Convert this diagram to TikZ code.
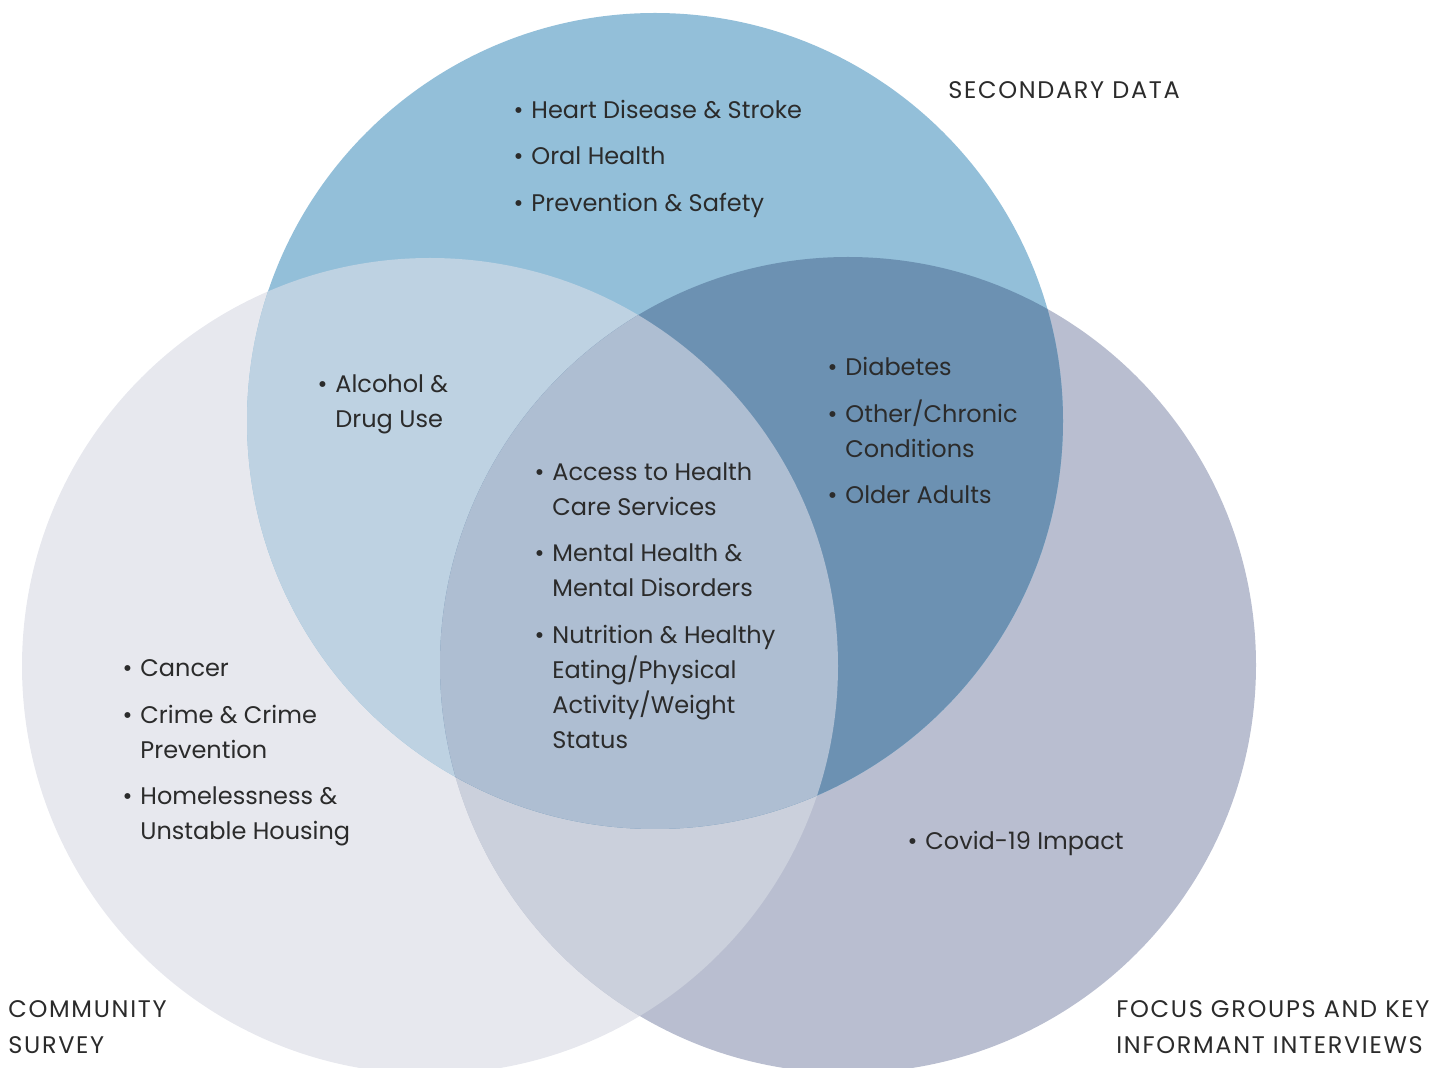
\documentclass[tikz,border=0pt]{standalone}
\usepackage{fontspec}
\setmainfont{Poppins}
\usetikzlibrary{positioning}

\definecolor{secblue}{HTML}{93BFD9}
\definecolor{surveygrey}{HTML}{E7E8EE}
\definecolor{focusgrey}{HTML}{B9BED0}
\definecolor{secsurvey}{HTML}{BED2E2}
\definecolor{secfocus}{HTML}{6C91B2}
\definecolor{surveyfocus}{HTML}{CBD0DC}
\definecolor{allthree}{HTML}{AEBED2}
\definecolor{inkgrey}{HTML}{2B2B2B}

\newcommand\topiclines[1]{\begin{tabular}[t]{@{}l@{}}#1\end{tabular}}
\newcommand\topic[3]{%
  \node[topic] (#1) at (#2) {\topiclines{#3}};
  \node[dot] (#1-dot) at (#1.base west) {\textbullet};}

\begin{document}
\begin{tikzpicture}[
  x=0.5pt, y=-0.5pt,
  every node/.style={inner sep=0pt, text=inkgrey,
    font=\fontsize{12}{17.5}\selectfont},
  topic/.style={anchor=base west},
  dot/.style={anchor=base east, xshift=-3.5pt},
  heading/.style={anchor=base west,
    font=\fontsize{12}{17.5}\selectfont\addfontfeatures{LetterSpace=7}}
]
\useasboundingbox (0,0) rectangle (1452,1068);
\begin{scope}
  \clip (0,0) rectangle (1452,1068);
  % single circles
  \fill[surveygrey] (430,666) circle[radius=408];
  \fill[focusgrey] (848,665) circle[radius=408];
  \fill[secblue] (655,421) circle[radius=408];
  % overlaps of two
  \begin{scope}
    \clip (430,666) circle[radius=408];
    \fill[surveyfocus] (848,665) circle[radius=408];
    \fill[secsurvey] (655,421) circle[radius=408];
  \end{scope}
  \begin{scope}
    \clip (848,665) circle[radius=408];
    \fill[secfocus] (655,421) circle[radius=408];
  \end{scope}
  % overlap of all three
  \begin{scope}
    \clip (430,666) circle[radius=408];
    \clip (848,665) circle[radius=408];
    \fill[allthree] (655,421) circle[radius=408];
  \end{scope}
\end{scope}

% headings
\node[heading] (secondary) at (948,99) {SECONDARY DATA};
\node[heading] (survey) at (8,1018) {\topiclines{COMMUNITY\\SURVEY}};
\node[heading] (focus) at (1116,1018) {\topiclines{FOCUS GROUPS AND KEY\\INFORMANT INTERVIEWS}};

% secondary data only
\topic{heart}{531,119}{Heart Disease \& Stroke}
\topic{oral}{531,165}{Oral Health}
\topic{safety}{531,212}{Prevention \& Safety}

% secondary data and survey
\topic{alcohol}{335,393}{Alcohol \&\\Drug Use}

% secondary data and focus groups
\topic{diabetes}{845,376}{Diabetes}
\topic{chronic}{845,423}{Other/Chronic\\Conditions}
\topic{older}{845,504}{Older Adults}

% all three
\topic{access}{552,481}{Access to Health\\Care Services}
\topic{mental}{552,562}{Mental Health \&\\Mental Disorders}
\topic{nutrition}{552,644}{Nutrition \& Healthy\\Eating/Physical\\Activity/Weight\\Status}

% survey only
\topic{cancer}{140,677}{Cancer}
\topic{crime}{140,724}{Crime \& Crime\\Prevention}
\topic{housing}{140,805}{Homelessness \&\\Unstable Housing}

% focus groups only
\topic{covid}{925,850}{Covid-19 Impact}
\end{tikzpicture}
\end{document}
